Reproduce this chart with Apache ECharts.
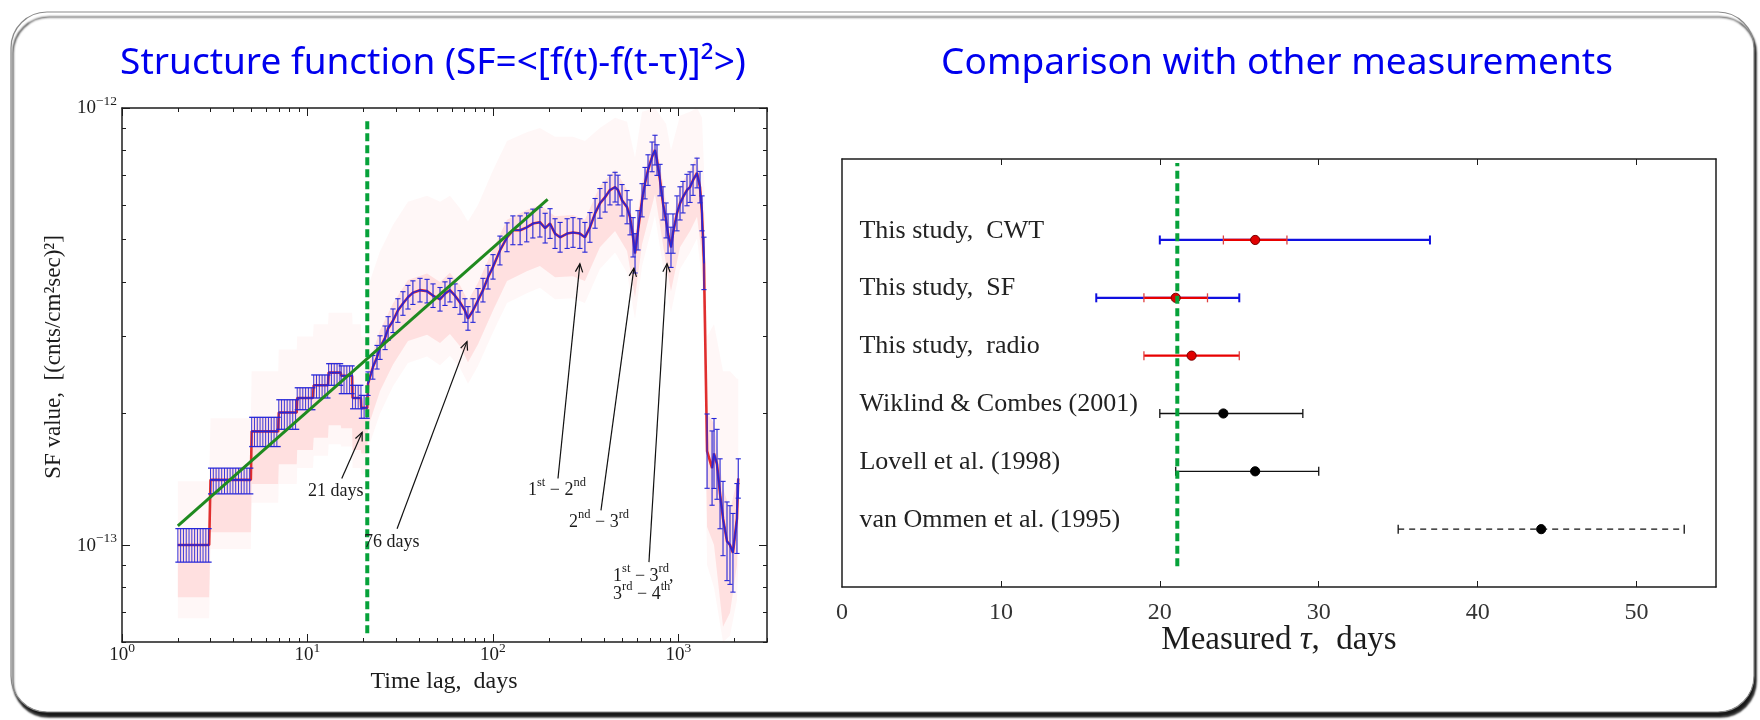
<!DOCTYPE html>
<html><head><meta charset="utf-8">
<script src="https://cdn.jsdelivr.net/npm/echarts@6/dist/echarts.min.js"></script>
<style>html,body{margin:0;padding:0;background:#fff;}#c{width:1760px;height:720px;}</style>
</head><body><div id="c"></div>
<script>
// ---------------- DATA ----------------
const U = 1e-13; // unit used below for SF values
// tick lists
const xMajor = [1, 10, 100, 1000];
const xMinor = [2,3,4,5,6,7,8,9,20,30,40,50,60,70,80,90,200,300,400,500,600,700,800,900,2000,3000];
const yMajor = [1e-13, 1e-12];
const yMinor = [6e-14,7e-14,8e-14,9e-14,2e-13,3e-13,4e-13,5e-13,6e-13,7e-13,8e-13,9e-13];
const tauTicks = [0, 10, 20, 30, 40, 50];

// step-like part of the structure function (short lags), units of 1e-13
const stepStart = [2, 3, 5, 7, 8.8, 10.8, 13, 15.2, 17.5, 19.5];
const stepEnd   = [2.95, 4.95, 6.95, 8.75, 10.7, 12.9, 15.1, 17.4, 19.4, 21];
const stepSF    = [1.00, 1.41, 1.82, 2.01, 2.17, 2.32, 2.48, 2.44, 2.17, 2.06];
const stepLo    = [0.914, 1.31, 1.68, 1.84, 2.04, 2.17, 2.32, 2.22, 2.05, 1.95];
const stepHi    = [1.09, 1.50, 1.96, 2.15, 2.29, 2.45, 2.60, 2.57, 2.32, 2.20];

// continuous part: lag (days), SF (1e-13), error half-width (dex)
const sfLag = [21.2,22.5,23.7,24.6,26.2,27.2,28.9,30.7,32.7,34.8,
  37.0,40.4,44.1,47.5,51.8,55.1,58.6,62.4,66.4,70.6,
  73.3,78.0,83.0,88.3,94.0,100,
  109,119,128,140,152,164,179,191,203,216,
  230,251,270,294,313,333,355,377,402,427,
  455,472,496,
  528,548,569,583,605,636,660,685,720,747,
  766,795,825,857,878,911,934,981,1019,1057,
  1111,1154,1198,1259,1306,1339,
  1372,1426,1517,1554,1613,1675,1738,1826,1895,1966,2066,2100];
const sfVal = [2.34,2.55,2.69,2.83,2.98,3.13,3.26,3.44,3.57,3.69,
  3.78,3.83,3.81,3.72,3.65,3.76,3.83,3.72,3.59,3.44,
  3.30,3.44,3.63,3.83,4.10,4.33,
  4.72,5.06,5.25,5.25,5.33,5.44,5.48,5.31,5.44,5.16,
  5.06,5.16,5.19,5.16,5.06,5.33,5.74,6.05,6.25,6.49,
  6.59,6.49,6.15,
  5.93,5.62,5.06,4.65,5.25,6.15,6.73,7.21,7.73,8.01,
  7.60,6.84,6.05,5.53,5.16,4.80,5.16,5.74,6.05,6.25,
  6.49,6.59,6.84,7.10,6.59,5.74,
  4.41,1.64,1.50,1.62,1.53,1.31,1.15,1.02,1.00,0.96,1.15,1.42];
const sfErr = [0.027,0.027,0.027,0.027,0.027,0.027,0.027,0.027,0.027,0.027,
  0.027,0.027,0.027,0.027,0.027,0.027,0.027,0.027,0.027,0.027,
  0.027,0.027,0.027,0.027,0.027,0.028,
  0.033,0.033,0.033,0.033,0.033,0.033,0.034,0.034,0.034,0.034,
  0.034,0.034,0.034,0.034,0.034,0.034,0.034,0.034,0.034,0.034,
  0.034,0.034,0.036,
  0.038,0.040,0.045,0.045,0.045,0.038,0.036,0.035,0.034,0.034,
  0.035,0.036,0.038,0.040,0.045,0.046,0.045,0.040,0.038,0.036,
  0.036,0.035,0.035,0.034,0.036,0.040,
  0.060,0.085,0.085,0.080,0.080,0.080,0.085,0.090,0.090,0.090,0.080,0.045];
// the measured curve is not drawn across the steep drop (index of first point after the gap)
const sfGapAt = 77;

// envelope of the simulated (red) curves, units of 1e-13
const bandLag = [2,2.95,3,4.95,5,6.95,7,8.75,8.8,10.7,10.8,12.9,13,15.1,15.2,17.4,17.5,19.4,19.5,21,
  21.2,24.6,28.9,34.8,44.1,51.8,58.6,66.4,73.3,83,100,119,152,179,216,270,313,377,455,528,583,636,747,857,911,1019,1154,1259,1339,1372,1426,1554,1738,1895,2066,2100];
const innerLo = [0.76,0.76,1.07,1.07,1.38,1.38,1.53,1.53,1.65,1.65,1.76,1.76,1.88,1.88,1.85,1.85,1.65,1.65,1.62,1.62,
  1.86,2.25,2.59,2.93,3.03,2.90,3.04,2.85,2.62,2.88,3.44,4.02,4.23,4.35,4.10,4.12,4.02,4.80,5.23,4.71,3.69,4.88,6.36,4.39,3.81,4.80,5.23,5.64,4.56,3.2,1.1,1.0,0.65,0.7,0.9,1.1];
const innerHi = [1.09,1.09,1.50,1.50,1.96,1.96,2.15,2.15,2.30,2.30,2.45,2.45,2.62,2.62,2.57,2.57,2.32,2.32,2.20,2.20,
  2.56,3.1,3.57,4.04,4.18,4.0,4.2,3.93,3.62,3.98,4.75,5.55,5.84,6.0,5.65,5.69,5.55,6.63,7.22,6.5,5.1,6.74,8.78,6.06,5.26,6.63,7.22,7.78,6.29,4.9,2.0,1.9,1.35,1.2,1.4,1.6];
const outerLo = [0.68,0.68,0.98,0.98,1.25,1.25,1.38,1.38,1.5,1.5,1.6,1.6,1.7,1.7,1.68,1.68,1.5,1.5,1.45,1.45,
  1.66,2.0,2.31,2.61,2.70,2.58,2.71,2.54,2.34,2.57,3.07,3.58,3.77,3.88,3.65,3.67,3.58,4.28,4.67,4.2,3.29,4.35,5.67,3.92,3.40,4.28,4.67,5.03,4.06,2.8,0.9,0.8,0.6,0.62,0.75,0.9];
const outerHi = [1.40,1.40,1.95,1.95,2.5,2.5,2.8,2.8,3.0,3.0,3.2,3.2,3.4,3.4,3.4,3.4,3.2,3.2,3.0,3.0,
  3.9,4.7,5.4,6.1,6.3,6.1,6.3,5.9,5.5,6.0,7.2,8.4,8.8,9.0,8.6,8.6,8.4,9.0,9.5,9.3,7.7,9.8,10,9.2,8.0,9.6,9.8,10,9.5,7.3,3.0,3.2,2.5,2.5,2.4,2.4];

// power-law fit and the 21-day marker
const fitLag = [2, 197];
const fitSF = [1.106, 6.18];
const markLag = 21;
const markSF = [0.628, 9.5];

// annotations (arrow start -> arrow tip), texts
const arrowFromLag = [15.3, 30.4, 224, 382, 693];
const arrowFromSF  = [1.42, 1.09, 1.42, 1.20, 0.914];
const arrowToLag   = [19.7, 72.4, 294, 575, 867];
const arrowToSF    = [1.81, 2.92, 4.40, 4.30, 4.40];
const noteLag  = [14.2, 28.5, 221, 373, 444, 444];
const noteSF   = [1.336, 1.021, 1.343, 1.135, 0.853, 0.776];
const noteText = ['{b|21 days}', '{b|76 days}', '{b|1}{s|st}{b| − 2}{s|nd}', '{b|2}{s|nd}{b| − 3}{s|rd}',
                  '{b|1}{s|st}{b| − 3}{s|rd}{b|,}', '{b|3}{s|rd}{b| − 4}{s|th}'];

// right panel: delay measurements
const rowNames = ['This study,  CWT', 'This study,  SF', 'This study,  radio',
                  'Wiklind & Combes (2001)', 'Lovell et al. (1998)', 'van Ommen et al. (1995)'];
const rowY   = [6, 5, 4, 3, 2, 1];
const tauVal = [26, 21, 22, 24, 26, 44];
const tauLo  = [24, 19, 19, 20, 21, 35];
const tauHi  = [28, 23, 25, 29, 30, 53];
const tauLo2 = [20, 16, null, null, null, null];
const tauHi2 = [37, 25, null, null, null, null];
const tauMark = 21.1;
const tauMarkY = [0.36, 7.33];

// ---------------- STYLE ----------------
const SERIF = "'Liberation Serif','DejaVu Serif',serif";
const INK = '#1c1c1c';
const BLUE = '#2626d8';
const RED = '#d80000';
const GREEN_D = '#06a23a';
const GREEN_F = '#1f8a1f';

const scaleU = a => a.map(v => v * U);
const sStepSF = scaleU(stepSF), sStepLo = scaleU(stepLo), sStepHi = scaleU(stepHi);
const sSF = scaleU(sfVal);
const sInLo = scaleU(innerLo), sInHi = scaleU(innerHi), sOutLo = scaleU(outerLo), sOutHi = scaleU(outerHi);
const sfPairs = sfLag.map((l, i) => [l, sSF[i]]);

const supRich = {
  b: {fontFamily: SERIF, fontSize: 18, color: INK, lineHeight: 20, verticalAlign: 'bottom'},
  s: {fontFamily: SERIF, fontSize: 12.5, color: INK, lineHeight: 12, verticalAlign: 'bottom', padding: [0, 0, 10, 0]}
};
const tickRich = {
  b: {fontFamily: SERIF, fontSize: 19, color: INK, lineHeight: 20, verticalAlign: 'bottom'},
  s: {fontFamily: SERIF, fontSize: 13.5, color: INK, lineHeight: 13, verticalAlign: 'bottom', padding: [0, 0, 10, 0]}
};
function powLabel(v) {
  const e = Math.round(Math.log10(v));
  return '{b|10}{s|' + (e < 0 ? '−' : '') + Math.abs(e) + '}';
}

const axLine = {show: true, onZero: false, lineStyle: {color: INK, width: 1.5}};
function logX(pos, ticks, len, labels) {
  return {type: 'log', logBase: 10, gridIndex: 0, min: 1, max: 3000, position: pos,
    axisLine: labels !== null ? axLine : {show: false},
    axisTick: {show: true, inside: true, length: len, customValues: ticks, lineStyle: {color: INK, width: 1}},
    axisLabel: labels ? {show: true, customValues: xMajor, formatter: powLabel, margin: 3, rich: tickRich} : {show: false},
    splitLine: {show: false}, minorTick: {show: false}};
}
function logY(pos, ticks, len, labels) {
  return {type: 'log', logBase: 10, gridIndex: 0, min: 6e-14, max: 1e-12, position: pos,
    axisLine: labels !== null ? axLine : {show: false},
    axisTick: {show: true, inside: true, length: len, customValues: ticks, lineStyle: {color: INK, width: 1}},
    axisLabel: labels ? {show: true, customValues: yMajor, formatter: powLabel, margin: 5, rich: tickRich} : {show: false},
    splitLine: {show: false}, minorTick: {show: false}};
}

const xAxes = [
  logX('bottom', xMajor, 8, true),
  logX('bottom', xMinor, 4, null),
  logX('top', xMajor, 8, false),
  logX('top', xMinor, 4, null),
  {type: 'value', gridIndex: 1, min: 0, max: 55, position: 'bottom',
    axisLine: axLine,
    axisTick: {show: true, inside: true, length: 6, customValues: tauTicks.slice(1), lineStyle: {color: INK, width: 1}},
    axisLabel: {show: true, customValues: tauTicks, margin: 14, fontFamily: SERIF, fontSize: 24, color: '#333'},
    splitLine: {show: false}},
  {type: 'value', gridIndex: 1, min: 0, max: 55, position: 'top',
    axisLine: axLine,
    axisTick: {show: true, inside: true, length: 6, customValues: tauTicks.slice(1), lineStyle: {color: INK, width: 1}},
    axisLabel: {show: false}, splitLine: {show: false}}
];
const yAxes = [
  logY('left', yMajor, 8, true),
  logY('left', yMinor, 4, null),
  logY('right', yMajor, 8, false),
  logY('right', yMinor, 4, null),
  {type: 'value', gridIndex: 1, min: 0, max: 7.4, position: 'left', axisLine: axLine,
    axisTick: {show: false}, axisLabel: {show: false}, splitLine: {show: false}},
  {type: 'value', gridIndex: 1, min: 0, max: 7.4, position: 'right', axisLine: axLine,
    axisTick: {show: false}, axisLabel: {show: false}, splitLine: {show: false}}
];

// ---------------- SERIES ----------------
function bandSeries(lo, hi, fill) {
  return {type: 'custom', xAxisIndex: 0, yAxisIndex: 0, z: 1, silent: true, clip: true,
    data: [[10, 1e-13]],
    renderItem: (p, api) => {
      const pts = [];
      for (let i = 0; i < bandLag.length; i++) pts.push(api.coord([bandLag[i], hi[i]]));
      for (let i = bandLag.length - 1; i >= 0; i--) pts.push(api.coord([bandLag[i], lo[i]]));
      return {type: 'polygon', shape: {points: pts}, style: {fill: fill}};
    }};
}
function blueLine(data) {
  return {type: 'line', xAxisIndex: 0, yAxisIndex: 0, z: 5, silent: true, showSymbol: false, symbol: 'none',
    data: data, lineStyle: {color: BLUE, width: 1.5}};
}

// red underlay (mean of simulations) follows the measured curve
const redData = [];
stepStart.forEach((s, i) => { redData.push([s, sStepSF[i]]); redData.push([stepEnd[i], sStepSF[i]]); });
sfPairs.forEach(p => redData.push(p));

const series = [
  bandSeries(sOutLo, sOutHi, 'rgba(255,40,40,0.04)'),
  bandSeries(sInLo, sInHi, 'rgba(255,30,30,0.10)'),
  {type: 'line', xAxisIndex: 0, yAxisIndex: 0, z: 3, silent: true, showSymbol: false, symbol: 'none',
    data: redData, lineStyle: {color: RED, width: 2.6, opacity: 0.8}},
  // step blocks (hatched error bars)
  {type: 'custom', xAxisIndex: 0, yAxisIndex: 0, z: 4, silent: true, clip: true,
    data: stepStart.map((s, i) => [s, sStepSF[i]]),
    renderItem: (p, api) => {
      const i = p.dataIndex;
      const a = api.coord([stepStart[i], sStepSF[i]]), b = api.coord([stepEnd[i], sStepSF[i]]);
      const lo = api.coord([stepStart[i], sStepLo[i]])[1], hi = api.coord([stepStart[i], sStepHi[i]])[1];
      const ch = [];
      for (let x = a[0]; x <= b[0] + 0.5; x += 2.8) {
        ch.push({type: 'line', shape: {x1: x, y1: lo, x2: x, y2: hi}, style: {stroke: BLUE, lineWidth: 1, opacity: 0.9}});
      }
      ch.push({type: 'line', shape: {x1: a[0] - 2.5, y1: lo, x2: b[0] + 2.5, y2: lo}, style: {stroke: BLUE, lineWidth: 1.3}});
      ch.push({type: 'line', shape: {x1: a[0] - 2.5, y1: hi, x2: b[0] + 2.5, y2: hi}, style: {stroke: BLUE, lineWidth: 1.3}});
      ch.push({type: 'line', shape: {x1: a[0], y1: a[1], x2: b[0], y2: b[1]}, style: {stroke: BLUE, lineWidth: 1.6}});
      return {type: 'group', children: ch};
    }},
  // error bars of the continuous part
  {type: 'custom', xAxisIndex: 0, yAxisIndex: 0, z: 4, silent: true, clip: true,
    data: sfPairs,
    renderItem: (p, api) => {
      const i = p.dataIndex;
      const f = Math.pow(10, sfErr[i]);
      const t = api.coord([sfLag[i], sSF[i] * f]), b = api.coord([sfLag[i], sSF[i] / f]);
      return {type: 'group', children: [
        {type: 'line', shape: {x1: t[0], y1: t[1], x2: b[0], y2: b[1]}, style: {stroke: BLUE, lineWidth: 1.1}},
        {type: 'line', shape: {x1: t[0] - 2.6, y1: t[1], x2: t[0] + 2.6, y2: t[1]}, style: {stroke: BLUE, lineWidth: 1.1}},
        {type: 'line', shape: {x1: b[0] - 2.6, y1: b[1], x2: b[0] + 2.6, y2: b[1]}, style: {stroke: BLUE, lineWidth: 1.1}}
      ]};
    }},
  blueLine(sfPairs.slice(0, sfGapAt - 1)),
  blueLine(sfPairs.slice(sfGapAt)),
  // power-law fit
  {type: 'line', xAxisIndex: 0, yAxisIndex: 0, z: 6, silent: true, showSymbol: false, symbol: 'none',
    data: fitLag.map((l, i) => [l, fitSF[i] * U]), lineStyle: {color: GREEN_F, width: 3}},
  // 21 days marker
  {type: 'line', xAxisIndex: 0, yAxisIndex: 0, z: 7, silent: true, showSymbol: false, symbol: 'none',
    data: markSF.map(v => [markLag, v * U]), lineStyle: {color: GREEN_D, width: 4, type: [8, 4]}},
  // arrows
  {type: 'custom', xAxisIndex: 0, yAxisIndex: 0, z: 8, silent: true,
    data: arrowFromLag.map((l, i) => [l, arrowFromSF[i] * U]),
    renderItem: (p, api) => {
      const i = p.dataIndex;
      const s = api.coord([arrowFromLag[i], arrowFromSF[i] * U]);
      const e = api.coord([arrowToLag[i], arrowToSF[i] * U]);
      const ang = Math.atan2(e[1] - s[1], e[0] - s[0]);
      const L = 9, w = 0.42;
      const h1 = [e[0] - L * Math.cos(ang - w), e[1] - L * Math.sin(ang - w)];
      const h2 = [e[0] - L * Math.cos(ang + w), e[1] - L * Math.sin(ang + w)];
      const st = {stroke: '#111', lineWidth: 1.2};
      return {type: 'group', children: [
        {type: 'line', shape: {x1: s[0], y1: s[1], x2: e[0], y2: e[1]}, style: st},
        {type: 'polyline', shape: {points: [h1, e, h2]}, style: Object.assign({fill: null}, st)}
      ]};
    }},
  // annotation texts
  {type: 'custom', xAxisIndex: 0, yAxisIndex: 0, z: 9, silent: true,
    data: noteLag.map((l, i) => [l, noteSF[i] * U]),
    renderItem: (p, api) => {
      const i = p.dataIndex;
      const c = api.coord([noteLag[i], noteSF[i] * U]);
      return {type: 'text', x: c[0], y: c[1],
        style: {text: noteText[i], align: i >= 4 ? 'left' : 'center', verticalAlign: 'middle', rich: supRich, fill: INK}};
    }},

  // ---------- right panel ----------
  {type: 'custom', xAxisIndex: 4, yAxisIndex: 4, z: 4, silent: true,
    data: tauVal.map((v, i) => [v, rowY[i]]),
    renderItem: (p, api) => {
      const i = p.dataIndex;
      const y = api.coord([0, rowY[i]])[1];
      const X = v => api.coord([v, rowY[i]])[0];
      const ours = i < 3;
      const ch = [];
      if (tauLo2[i] != null) {
        const a = X(tauLo2[i]), b = X(tauHi2[i]);
        ch.push({type: 'line', shape: {x1: a, y1: y, x2: b, y2: y}, style: {stroke: '#1010e0', lineWidth: 2.2}});
        ch.push({type: 'line', shape: {x1: a, y1: y - 4.5, x2: a, y2: y + 4.5}, style: {stroke: '#1010e0', lineWidth: 2}});
        ch.push({type: 'line', shape: {x1: b, y1: y - 4.5, x2: b, y2: y + 4.5}, style: {stroke: '#1010e0', lineWidth: 2}});
      }
      const a = X(tauLo[i]), b = X(tauHi[i]);
      const col = ours ? '#e80000' : '#111';
      const lineSt = {stroke: col, lineWidth: ours ? 2.2 : 1.3};
      if (i === 5) lineSt.lineDash = [6, 5];
      ch.push({type: 'line', shape: {x1: a, y1: y, x2: b, y2: y}, style: lineSt});
      const capSt = {stroke: ours ? '#e04040' : '#111', lineWidth: 1.3};
      ch.push({type: 'line', shape: {x1: a, y1: y - 4.5, x2: a, y2: y + 4.5}, style: capSt});
      ch.push({type: 'line', shape: {x1: b, y1: y - 4.5, x2: b, y2: y + 4.5}, style: capSt});
      ch.push({type: 'circle', shape: {cx: X(tauVal[i]), cy: y, r: 4.6},
        style: {fill: ours ? '#e00000' : '#000', stroke: ours ? '#7a0000' : '#000', lineWidth: 1}});
      return {type: 'group', children: ch};
    }},
  {type: 'custom', xAxisIndex: 4, yAxisIndex: 4, z: 5, silent: true,
    data: rowNames.map((n, i) => [1.1, rowY[i]]),
    renderItem: (p, api) => {
      const i = p.dataIndex;
      const c = api.coord([1.1, rowY[i] + 0.16]);
      return {type: 'text', x: c[0], y: c[1],
        style: {text: rowNames[i], align: 'left', verticalAlign: 'middle', fontFamily: SERIF, fontSize: 26, fill: '#222'}};
    }},
  {type: 'line', xAxisIndex: 4, yAxisIndex: 4, z: 7, silent: true, showSymbol: false, symbol: 'none',
    data: tauMarkY.map(v => [tauMark, v]), lineStyle: {color: GREEN_D, width: 4, type: [8, 4.5]}}
];

// ---------------- CHART ----------------
const chart = echarts.init(document.getElementById('c'), null, {renderer: 'canvas'});
chart.setOption({
  animation: false,
  backgroundColor: '#fff',
  grid: [
    {left: 122, top: 108, width: 645, height: 534, containLabel: false},
    {left: 842, top: 159, width: 874, height: 428, containLabel: false}
  ],
  xAxis: xAxes,
  yAxis: yAxes,
  series: series,
  graphic: [
    {type: 'rect', z: -100, silent: true, shape: {x: 11, y: 12, width: 1743, height: 700, r: 36},
      style: {fill: '#fff', stroke: '#8a8a8a', lineWidth: 1.2, shadowColor: 'rgba(0,0,0,0.9)', shadowOffsetX: 2, shadowOffsetY: 5, shadowBlur: 2}},
    {type: 'text', x: 433, y: 63, silent: true,
      style: {text: 'Structure function (SF=<[f(t)-f(t-τ)]²>)', align: 'center', verticalAlign: 'middle',
        fontFamily: "'Noto Sans', sans-serif", fontSize: 37, fill: '#0000ee'}},
    {type: 'text', x: 1277, y: 63, silent: true,
      style: {text: 'Comparison with other measurements', align: 'center', verticalAlign: 'middle',
        fontFamily: "'Noto Sans', sans-serif", fontSize: 37, fill: '#0000ee'}},
    {type: 'text', x: 54, y: 357, rotation: Math.PI / 2, silent: true,
      style: {text: 'SF value,  [(cnts/cm²sec)²]', align: 'center', verticalAlign: 'middle',
        fontFamily: SERIF, fontSize: 23, fill: INK}},
    {type: 'text', x: 444, y: 682, silent: true,
      style: {text: 'Time lag,  days', align: 'center', verticalAlign: 'middle', fontFamily: SERIF, fontSize: 24, fill: INK}},
    {type: 'text', x: 1279, y: 640, silent: true,
      style: {text: '{r|Measured }{i|τ}{r|,  days}', align: 'center', verticalAlign: 'middle',
        rich: {r: {fontFamily: SERIF, fontSize: 33, fill: INK}, i: {fontFamily: SERIF, fontSize: 33, fontStyle: 'italic', fill: INK}}}}
  ]
});
</script></body></html>
